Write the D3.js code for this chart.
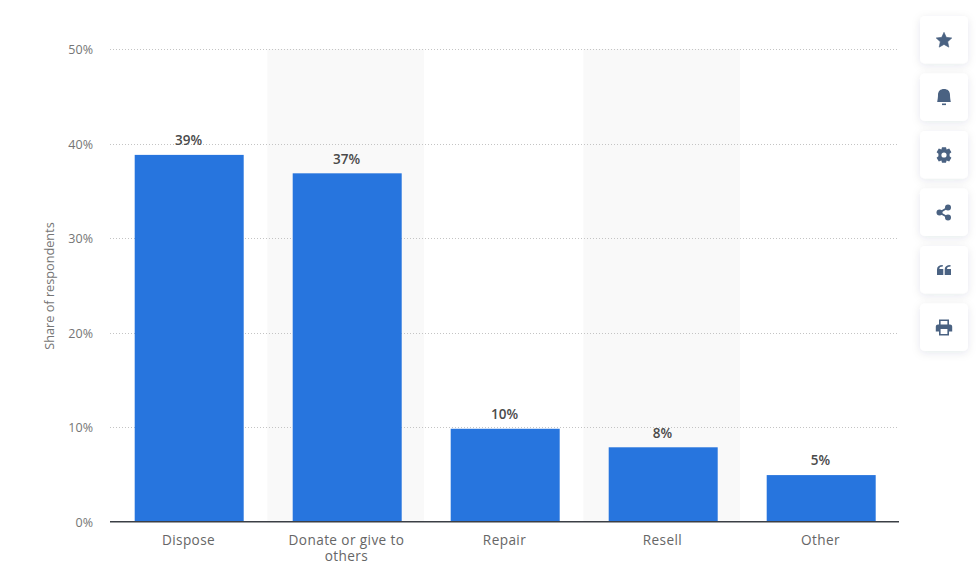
<!DOCTYPE html>
<html><head><meta charset="utf-8">
<script src="https://cdn.jsdelivr.net/npm/d3@7"></script>
<style>
html,body{margin:0;padding:0;background:#fff;overflow:hidden}
svg{display:block;font-family:"Open Sans",sans-serif}
</style></head><body>
<svg id="c" width="980" height="577"></svg>
<script>
const categories = ["Dispose","Donate or give to others","Repair","Resell","Other"];
const labels = ["39%","37%","10%","8%","5%"];
const barValues = [38.8,36.85,9.83,7.87,4.93];
const yTicks = [0,10,20,30,40,50];
const yLabel = "Share of respondents";
const iconNames = ["star","bell","gear","share","quote","print"];

const m={l:110,r:899,t:49,b:521.7};
const svg=d3.select("#c");
const defs=svg.append("defs");
const f=defs.append("filter").attr("id","sh").attr("x","-30%").attr("y","-30%").attr("width","160%").attr("height","160%");
f.append("feDropShadow").attr("dx",0).attr("dy",2).attr("stdDeviation",4).attr("flood-color","#1e3250").attr("flood-opacity",0.10);

const x=d3.scaleBand().domain(categories).range([m.l,m.l+790]);
const y=d3.scaleLinear().domain([0,50]).range([m.b,m.t]);
const barW=109;
const cx=d=>x(d)+x.bandwidth()/2;

// alternating shaded bands
svg.append("g").selectAll("rect").data(categories.filter((d,i)=>i%2===1)).join("rect")
  .attr("x",d=>x(d)-0.7).attr("y",m.t).attr("width",156.7).attr("height",m.b-m.t).attr("fill","#f9f9f9");

// grid + y labels
const yAxis=d3.axisLeft(y).tickValues(yTicks).tickSize(m.l-m.r).tickFormat(d=>d+"%");
const gy=svg.append("g").attr("transform",`translate(${m.l},0)`).call(yAxis);
gy.select(".domain").remove();
gy.selectAll(".tick line").attr("stroke","#c4c4c4").attr("stroke-dasharray","1 2").attr("shape-rendering","crispEdges");
gy.selectAll(".tick text").attr("x",-17).attr("y",0.6).attr("dy","0.32em").attr("fill","#757575").attr("font-size",12.5).attr("font-family",'"Open Sans",sans-serif');
gy.selectAll(".tick").filter(d=>d===0).select("line").remove();

svg.append("text").attr("transform",`translate(54,286) rotate(-90)`)
  .attr("text-anchor","middle").attr("fill","#757575").attr("font-size",12.7).text(yLabel);

// bars
svg.append("g").selectAll("rect").data(categories).join("rect")
  .attr("x",d=>cx(d)-barW/2+0.2).attr("width",barW)
  .attr("y",(d,i)=>y(barValues[i])).attr("height",(d,i)=>m.b-y(barValues[i]))
  .attr("fill","#2775de");

// value labels
svg.append("g").selectAll("text").data(categories).join("text")
  .attr("x",d=>cx(d)-0.5).attr("y",(d,i)=>y(barValues[i])-9.6)
  .attr("text-anchor","middle").attr("font-size",13.5).attr("font-weight",600).attr("fill","#4a4a4a")
  .text((d,i)=>labels[i]);

// baseline
svg.append("line").attr("x1",m.l).attr("x2",m.r).attr("y1",m.b).attr("y2",m.b).attr("stroke","#3b3f45").attr("stroke-width",1.5);

// x labels
const labelLines={"Donate or give to others":["Donate or give to","others"]};
const xg=svg.append("g").selectAll("text").data(categories).join("text")
  .attr("text-anchor","middle").attr("font-size",13.6).attr("fill","#666").attr("letter-spacing",0.4);
xg.each(function(d){
  const t=d3.select(this);
  (labelLines[d]||[d]).forEach((l,i)=>t.append("tspan").attr("x",cx(d)-0.5).attr("y",545+i*15.8).text(l));
});

// side buttons
const starPts=d3.range(10).map(i=>{const r=i%2?3.9:8.2,a=i*Math.PI/5;return [r*Math.sin(a),-r*Math.cos(a)];});
const icons={
 star:g=>g.append("path").attr("d","M"+starPts.join("L")+"Z").attr("transform","translate(0,0.5)").attr("stroke","#4a6282").attr("stroke-width",0.6).attr("stroke-linejoin","round"),
 bell:g=>{g.append("path").attr("d","M-6.8,4.5 C-6.4,2 -6,0 -6,-2.5 C-6,-6.5 -3.5,-8.5 0,-8.5 C3.5,-8.5 6,-6.5 6,-2.5 C6,0 6.4,2 6.8,4.5 Z");g.append("rect").attr("x",-2).attr("y",6).attr("width",4).attr("height",1.6);},
 gear:g=>{g.append("path").attr("fill-rule","evenodd").attr("d","M-2,-7.8 L2,-7.8 L2.6,-5.6 L5.2,-6.6 L7.4,-2.8 L5.6,-1.2 L5.6,1.2 L7.4,2.8 L5.2,6.6 L2.6,5.6 L2,7.8 L-2,7.8 L-2.6,5.6 L-5.2,6.6 L-7.4,2.8 L-5.6,1.2 L-5.6,-1.2 L-7.4,-2.8 L-5.2,-6.6 L-2.6,-5.6 Z M0,-2.6 A2.6,2.6 0 1 0 0,2.6 A2.6,2.6 0 1 0 0,-2.6 Z");},
 share:g=>{g.append("circle").attr("cx",-4.5).attr("cy",0).attr("r",3);g.append("circle").attr("cx",4).attr("cy",-5).attr("r",3);g.append("circle").attr("cx",4).attr("cy",5).attr("r",3);g.append("path").attr("d","M4,-5 L-4.5,0 L4,5").attr("fill","none").attr("stroke","#4a6282").attr("stroke-width",1.8);},
 quote:g=>{[-7,0.7].forEach(dx=>g.append("path").attr("d",`M${dx},-0.5 Q${dx},-5 ${dx+5.8},-5 L${dx+5.8},-3.4 Q${dx+2.5},-3.4 ${dx+2.3},-1 L${dx+6.3},-1 L${dx+6.3},5 L${dx},5 Z`));},
 print:g=>{g.append("path").attr("fill-rule","evenodd").attr("d","M-5,-8 L5,-8 L5,-3 L6,-3 Q8.2,-3 8.2,-1 L8.2,4 L5,4 L5,8 L-5,8 L-5,4 L-8.2,4 L-8.2,-1 Q-8.2,-3 -6,-3 L-5,-3 Z M-3.4,-6.6 L-3.4,-3 L3.4,-3 L3.4,-6.6 Z M-3.4,1.4 L-3.4,6.6 L3.4,6.6 L3.4,1.4 Z");}
};
const btnScale=d3.scalePoint().domain(iconNames).range([40,327.5]);
const btn=svg.append("g").selectAll("g").data(iconNames).join("g")
  .attr("transform",d=>`translate(944,${btnScale(d)})`);
btn.append("rect").attr("x",-24).attr("y",-24).attr("width",48).attr("height",47.5).attr("rx",5).attr("fill","#fff").attr("filter","url(#sh)");
btn.append("g").attr("fill","#4a6282").each(function(d){icons[d](d3.select(this));});
</script>
</body></html>
